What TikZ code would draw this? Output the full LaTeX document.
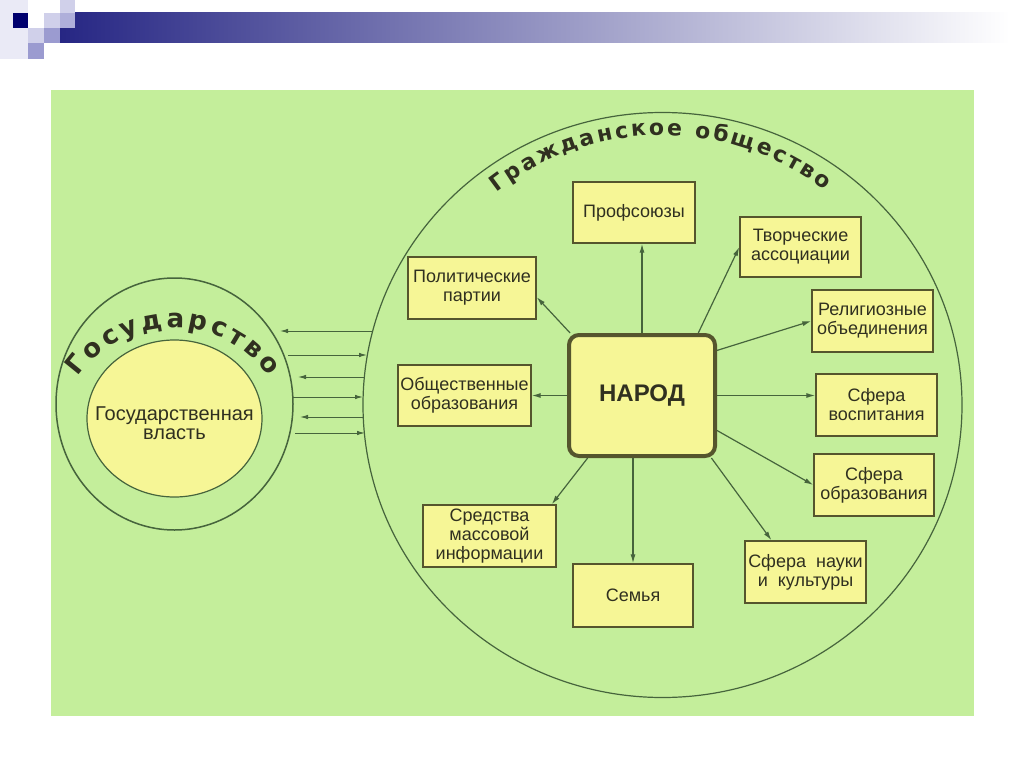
\documentclass[tikz,border=0pt]{standalone}
\usepackage{fontspec}
\setmainfont{Liberation Sans}
\newfontfamily\dugafont{DejaVu Sans}
\usepackage{tikz}
\usetikzlibrary{shapes.geometric, arrows.meta, decorations.text}
\usepackage{xcolor}
\definecolor{fon}{RGB}{196,238,155}
\definecolor{zhelt}{RGB}{246,246,150}
\definecolor{kontur}{RGB}{70,100,60}
\definecolor{ramka}{RGB}{85,85,45}
\definecolor{tekst}{RGB}{48,48,32}
\definecolor{sin}{RGB}{0,0,110}
\definecolor{seryj}{RGB}{160,160,182}
\definecolor{sirenl}{RGB}{208,208,234}
\definecolor{sirens}{RGB}{155,155,208}
\tikzset{
  blok/.style={rectangle, draw=ramka, fill=zhelt, line width=1.4pt, text=tekst,
               align=center, inner sep=0pt, font=\fontsize{18}{19}\selectfont},
  strelka/.style={-{Latex[length=9pt,width=5pt]}, draw=kontur, line width=1.2pt},
  svyaz/.style={-{Latex[length=8pt,width=4.5pt]}, draw=kontur, line width=1pt}
}

\begin{document}
\begin{tikzpicture}[x=1pt, y=-1pt]
  \useasboundingbox (0,0) rectangle (1024,767);
  \fill[white] (0,0) rectangle (1024,767);
  % title strip
  \fill[sirenl!45] (0,0) rectangle (28,59);
  \shade[left color=sin!85!white, middle color=seryj, right color=white] (60,13) rectangle (1010,43);
  \fill[sin] (13,13) rectangle (28,28);
  \fill[sirenl] (44,13) rectangle (60,28);
  \fill[sirenl] (60,0) rectangle (75,13);
  \fill[sirens!80!white] (60,13) rectangle (75,28);
  \fill[sirenl] (28,28) rectangle (44,43);
  \fill[sirens] (44,28) rectangle (60,43);
  \fill[sirens] (28,43) rectangle (44,59);
  % panel
  \fill[fon] (51,90) rectangle (974,716);

  % state
  \node[ellipse, draw=kontur, line width=1.5pt, minimum width=237pt,
        minimum height=252pt, inner sep=0pt] (gos) at (174.5,404) {};
  \node[ellipse, draw=kontur, fill=zhelt, line width=1.2pt, minimum width=175pt,
        minimum height=157pt, inner sep=0pt] (vlast) at (174.5,418.5) {};
  \node[align=center, text=tekst, inner sep=0pt, font=\fontsize{20}{19}\selectfont]
    (vlasttxt) at (174.5,423) {Государственная\\власть};
  \path[decorate, decoration={text along path, text align=fit to path,
        text={|\dugafont\bfseries\fontsize{26}{26}\selectfont\color{tekst}|Государство}}]
    (78.2,376.9) arc[start angle=145, end angle=35, radius=116pt];

  % civil society
  \node[ellipse, draw=kontur, line width=1.2pt, minimum width=599pt,
        minimum height=585pt, inner sep=0pt] (grazhd) at (662.5,405) {};
  \path[decorate, decoration={text along path, text align=fit to path,
        text={|\dugafont\bfseries\fontsize{22}{22}\selectfont\color{tekst}|Гражданское общество}}]
    (496.3,192.2) arc[start angle=128, end angle=52.7, radius=269pt];

  \node[blok, minimum width=122pt, minimum height=61pt] (prof) at (634,212.5) {Профсоюзы};
  \node[blok, minimum width=121pt, minimum height=60pt] (tvor) at (800.5,247) {Творческие\\ассоциации};
  \node[blok, minimum width=128pt, minimum height=62pt] (polit) at (472,288) {Политические\\партии};
  \node[blok, minimum width=121pt, minimum height=62pt] (relig) at (872.5,321) {Религиозные\\объединения};
  \node[blok, minimum width=121pt, minimum height=62pt] (vosp) at (876.5,405) {Сфера\\воспитания};
  \node[blok, minimum width=120pt, minimum height=62pt] (sobraz) at (874,485) {Сфера\\образования};
  \node[blok, minimum width=121pt, minimum height=62pt] (nauka) at (805.5,572) {Сфера\ \ науки\\и\ \ культуры};
  \node[blok, minimum width=120pt, minimum height=63pt] (semya) at (633,595.5) {Семья};
  \node[blok, minimum width=133pt, minimum height=62pt] (smi) at (489.5,536) {Средства\\массовой\\информации};
  \node[blok, minimum width=133pt, minimum height=61pt] (obshobr) at (464.5,395.5) {Общественные\\образования};
  \node[blok, line width=4pt, rounded corners=10pt, minimum width=146pt, minimum height=121pt,
        font=\bfseries\fontsize{24}{24}\selectfont] (narod) at (642,395.5) {НАРОД};

  \draw[strelka] (narod.north) -- (narod.north |- prof.south);
  \draw[strelka] (narod.139) -- (polit.-8);
  \draw[strelka] (narod.48) -- (tvor.west);
  \draw[strelka] (narod.31) -- (relig.west);
  \draw[strelka] (narod.east) -- (narod.east -| vosp.west);
  \draw[strelka] (narod.-25) -- (sobraz.west);
  \draw[strelka] (narod.-42) -- (nauka.137);
  \draw[strelka] (semya.north |- narod.south) -- (semya.north);
  \draw[strelka] (narod.229) -- (smi.27);
  \draw[strelka] (narod.west) -- (obshobr.east);

  % links between state and society
  \foreach \y/\xa/\xb [count=\i] in {331/373/280, 355/288/367, 377/364/298,
                                     397/293/363, 417/363/300, 433/295/365} {
    \coordinate (pa\i) at (\xa,\y);
    \coordinate (pb\i) at (\xb,\y);
    \draw[svyaz] (pa\i) -- (pb\i);
  }
\end{tikzpicture}
\end{document}
